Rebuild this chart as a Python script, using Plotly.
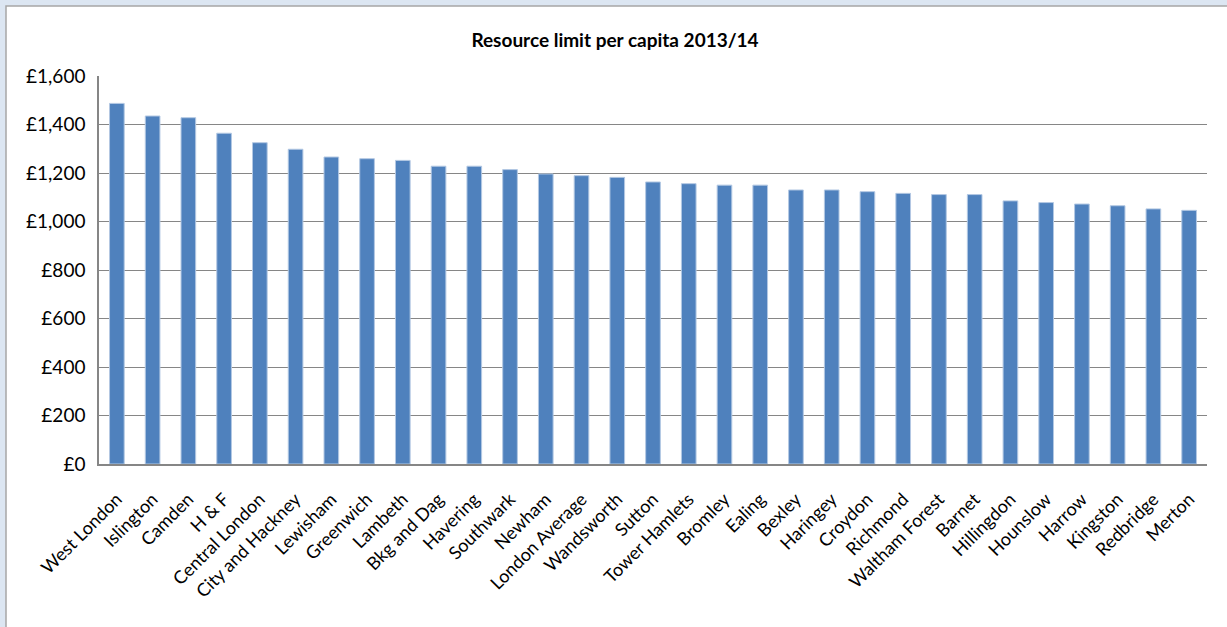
import plotly.graph_objects as go

categories = ["West London", "Islington", "Camden", "H & F", "Central London",
              "City and Hackney", "Lewisham", "Greenwich", "Lambeth", "Bkg and Dag",
              "Havering", "Southwark", "Newham", "London Average", "Wandsworth",
              "Sutton", "Tower Hamlets", "Bromley", "Ealing", "Bexley",
              "Haringey", "Croydon", "Richmond", "Waltham Forest", "Barnet",
              "Hillingdon", "Hounslow", "Harrow", "Kingston", "Redbridge", "Merton"]
values = [1487, 1435, 1428, 1364, 1325,
          1298, 1266, 1259, 1252, 1228,
          1228, 1214, 1196, 1189, 1182,
          1163, 1156, 1150, 1150, 1130,
          1130, 1123, 1116, 1111, 1111,
          1085, 1078, 1072, 1065, 1052, 1046]
y_tickvals = [0, 200, 400, 600, 800, 1000, 1200, 1400, 1600]
y_ticktext = ["£0", "£200", "£400", "£600", "£800", "£1,000", "£1,200", "£1,400", "£1,600"]
title_text = "Resource limit per capita 2013/14"

W, H = 1227, 627
L, R, T, B = 99, 20, 76, 163
pw, ph = W - L - R, H - T - B

def px_x(p):
    return (p - L) / pw

def px_y(p):
    return (H - B - p) / ph

fig = go.Figure(go.Bar(
    x=categories, y=values,
    marker=dict(color="#4f81bd", line=dict(color="#b3c8e3", width=1)),
))

fig.add_shape(type="rect", xref="paper", yref="paper",
              x0=px_x(6), x1=px_x(1260), y0=px_y(700), y1=px_y(6),
              fillcolor="white", line=dict(color="#a6a6a6", width=1.5), layer="below")

fig.update_layout(
    width=W, height=H,
    margin=dict(l=L, r=R, t=T, b=B, pad=0),
    paper_bgcolor="#dce6f2",
    plot_bgcolor="rgba(0,0,0,0)",
    bargap=0.59,
    showlegend=False,
    font=dict(family="Lato, Open Sans, sans-serif", color="black"),
    title=dict(text="<b>" + title_text + "</b>", x=615 / W, xanchor="center",
               y=1 - 40 / H, yanchor="middle", xref="container", yref="container",
               font=dict(size=19, family="Lato, sans-serif", color="black")),
    xaxis=dict(tickangle=-45, tickfont=dict(size=18), showgrid=False,
               showline=True, linecolor="#868686", linewidth=1.5, ticks="",
               ticklabelstandoff=16),
    yaxis=dict(range=[0, 1600], tickvals=y_tickvals, ticktext=y_ticktext,
               tickfont=dict(size=19), showgrid=True, gridcolor="#868686",
               gridwidth=1.3, showline=True, linecolor="#868686", linewidth=1.5,
               ticks="", ticklabelstandoff=8, zeroline=False),
)

fig.write_html("out.html", config={"displayModeBar": False},
               post_script="document.body.style.margin='0';document.body.style.overflow='hidden';")
